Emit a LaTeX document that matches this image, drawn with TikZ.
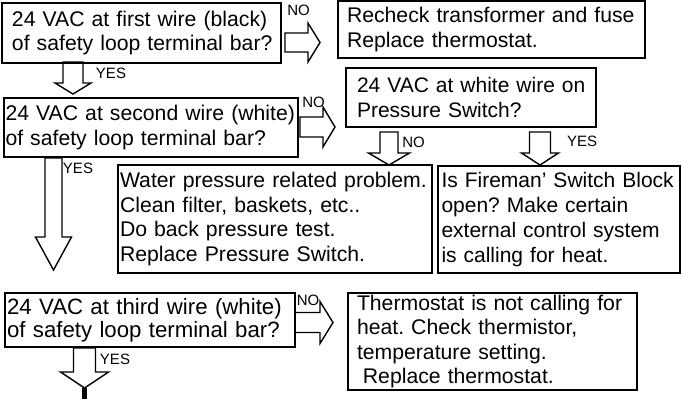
\documentclass[tikz,border=0pt]{standalone}
\usepackage{fontspec}
\setmainfont{Liberation Sans}
\usetikzlibrary{calc}
\newcommand{\boxfont}{\fontsize{21.2}{24.5}\selectfont\frenchspacing}
\newcommand{\tagfont}{\fontsize{15}{15}\selectfont}
\begin{document}
\begin{tikzpicture}[x=1pt, y=-1pt,
  box/.style={draw, line width=1.8pt, anchor=north west, align=left, inner ysep=0pt, outer sep=0pt, font=\boxfont},
  tag/.style={inner sep=0pt, font=\tagfont},
  rarrow/.style n args={3}{line width=1.4pt, to path={($(\tikztostart)+(0,-#1)$) -- ($(\tikztotarget)+(-#3,-#1)$) -- ($(\tikztotarget)+(-#3,-#2)$) -- (\tikztotarget) -- ($(\tikztotarget)+(-#3,#2)$) -- ($(\tikztotarget)+(-#3,#1)$) -- ($(\tikztostart)+(0,#1)$) -- cycle}},
  darrow/.style n args={3}{line width=1.4pt, to path={($(\tikztostart)+(-#1,0)$) -- ($(\tikztotarget)+(-#1,-#3)$) -- ($(\tikztotarget)+(-#2,-#3)$) -- (\tikztotarget) -- ($(\tikztotarget)+(#2,-#3)$) -- ($(\tikztotarget)+(#1,-#3)$) -- ($(\tikztostart)+(#1,0)$) -- cycle}}]
\useasboundingbox (0,0) rectangle (682,399);
\node[box, inner xsep=10pt, text width=259pt, minimum height=60pt] (first) at (2,3) {\mbox{24 VAC at first wire (black)}\\\mbox{of safety loop terminal bar?}};
\node[box, inner xsep=1.5pt, text width=291pt, minimum height=59pt] (second) at (4,98) {\mbox{24 VAC at second wire (white)}\\\mbox{of safety loop terminal bar?}};
\node[box, inner xsep=2pt, text width=286pt, minimum height=54pt, font=\fontsize{22.2}{23}\selectfont\frenchspacing] (third) at (5,293) {\mbox{24 VAC at third wire (white)}\\\mbox{of safety loop terminal bar?}};
\node[box, inner xsep=9pt, text width=289pt, minimum height=57pt] (recheck) at (338,1) {\mbox{Recheck transformer and fuse}\\\mbox{Replace thermostat.}};
\node[box, inner xsep=11pt, text width=228pt, minimum height=59pt, font=\fontsize{21}{24.5}\selectfont\frenchspacing] (white) at (346,68) {\mbox{24 VAC at white wire on}\\\mbox{Pressure Switch?}};
\node[box, inner xsep=2pt, text width=310pt, minimum height=108pt] (water) at (118,165) {\mbox{Water pressure related problem.}\\\mbox{Clean filter, baskets, etc..}\\\mbox{Do back pressure test.}\\\mbox{Replace Pressure Switch.}};
\node[box, inner xsep=3.5pt, text width=235pt, minimum height=107pt, font=\fontsize{21}{25}\selectfont\frenchspacing] (fireman) at (438,166) {\mbox{Is Fireman’ Switch Block}\\\mbox{open? Make certain}\\\mbox{external control system}\\\mbox{is calling for heat.}};
\node[box, inner xsep=9pt, text width=271pt, minimum height=97pt] (thermo) at (348,293) {\mbox{Thermostat is not calling for}\\\mbox{heat. Check thermistor,}\\\mbox{temperature setting.}\\\mbox{\hspace*{0.28em}Replace thermostat.}};
% block arrows
\coordinate (no1a) at (285,42.5);
\coordinate (no1b) at (320,42.5);
\coordinate (yes1a) at (73,62);
\coordinate (yes1b) at (73,94);
\coordinate (no2a) at (300,127);
\coordinate (no2b) at (335,127);
\coordinate (yes2a) at (53.5,158);
\coordinate (yes2b) at (53.5,270);
\coordinate (nopsa) at (389,132);
\coordinate (nopsb) at (389,165);
\coordinate (yespsa) at (540,132);
\coordinate (yespsb) at (540,165);
\coordinate (no3a) at (295,322.5);
\coordinate (no3b) at (333,322.5);
\coordinate (yes3a) at (84.5,348);
\coordinate (yes3b) at (84.5,388);
\coordinate (tail) at (84.5,399);
\draw[rarrow={9.5}{19.5}{12}] (no1a) to (no1b);
\draw[darrow={10}{18}{11}] (yes1a) to (yes1b);
\draw[rarrow={10}{20}{12}] (no2a) to (no2b);
\draw[darrow={8.5}{18}{33}] (yes2a) to (yes2b);
\draw[darrow={9}{20.5}{12}] (nopsa) to (nopsb);
\draw[darrow={10.5}{18.5}{12}] (yespsa) to (yespsb);
\draw[rarrow={10}{21}{13}] (no3a) to (no3b);
\draw[darrow={11}{24}{16}] (yes3a) to (yes3b);
\draw[line width=5pt] (yes3b) -- (tail);
% labels
\node[tag] (tno1) at (298.5,10) {NO};
\node[tag] (tyes1) at (111,73) {YES};
\node[tag] (tno2) at (313.5,102) {NO};
\node[tag] (tyes2) at (78,168) {YES};
\node[tag] (tnops) at (413.5,142) {NO};
\node[tag] (tyesps) at (582,141) {YES};
\node[tag] (tno3) at (308,300) {NO};
\node[tag] (tyes3) at (115,359) {YES};
\end{tikzpicture}
\end{document}
